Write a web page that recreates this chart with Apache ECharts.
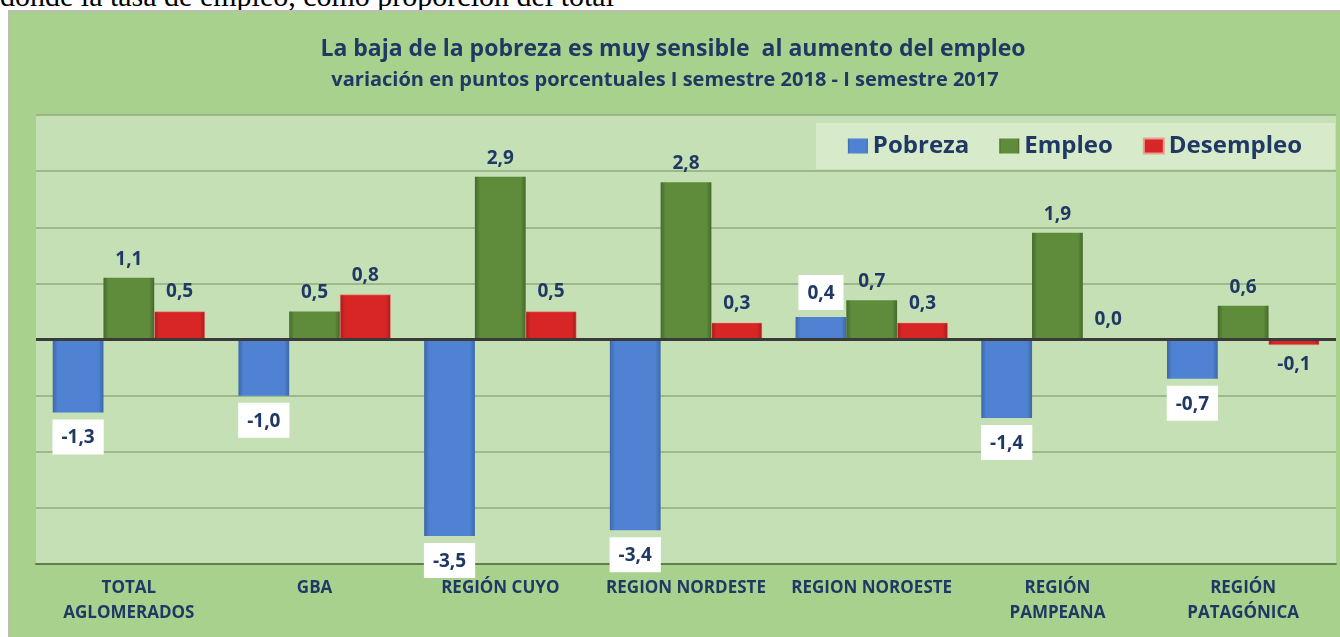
<!DOCTYPE html>
<html>
<head>
<meta charset="utf-8">
<script src="https://cdn.jsdelivr.net/npm/echarts@6/dist/echarts.min.js"></script>
<style>
    body { margin: 0; background: #ffffff; width: 1340px; height: 637px; overflow: hidden; position: relative; }
    #texto { position: absolute; left: 0; top: -19px; font-family: "Liberation Serif", serif; font-size: 30px; line-height: 30px; color: #000; white-space: nowrap; }
    #chart { position: absolute; left: 8px; top: 10px; width: 1332px; height: 627px; background: #a9d18e; border-top: 2px solid #b9c0b2; border-left: 2px solid #b9c0b2; box-sizing: border-box; }
</style>
</head>
<body>
<div id="texto">donde la tasa de empleo, como proporción del total</div>
<div id="chart"></div>
<script>
// datos
var regiones = ['TOTAL\nAGLOMERADOS', 'GBA', 'REGIÓN CUYO', 'REGION NORDESTE', 'REGION NOROESTE', 'REGIÓN\nPAMPEANA', 'REGIÓN\nPATAGÓNICA'];
var pobreza = [-1.3, -1.0, -3.5, -3.4, 0.4, -1.4, -0.7];
var empleo = [1.1, 0.5, 2.9, 2.8, 0.7, 1.9, 0.6];
var desempleo = [0.5, 0.8, 0.5, 0.3, 0.3, 0.0, -0.1];

var azulOscuro = '#1f3864';
var fuente = 'Open Sans';

function coma(v) {
    return v.toFixed(1).replace('.', ',');
}

// degradado horizontal para simular el bisel de excel
function bisel(borde, centro) {
    return new echarts.graphic.LinearGradient(0, 0, 1, 0, [
        { offset: 0, color: borde },
        { offset: 0.1, color: centro },
        { offset: 0.9, color: centro },
        { offset: 1, color: borde }
    ]);
}

// etiqueta arriba o abajo segun el signo
function conEtiqueta(lista, distancia) {
    return lista.map(function (v) {
        return {
            value: v,
            label: { position: v < 0 ? 'bottom' : 'top', distance: distancia }
        };
    });
}

var etiquetaTexto = {
    show: true,
    color: azulOscuro,
    fontFamily: fuente,
    fontWeight: 'bold',
    fontSize: 19,
    formatter: function (p) { return coma(p.value); }
};

var myChart = echarts.init(document.getElementById('chart'));

var option = {
    animation: false,
    title: [{
        text: 'La baja de la pobreza es muy sensible  al aumento del empleo',
        left: 658,
        top: 21,
        textAlign: 'center',
        textStyle: { color: azulOscuro, fontFamily: fuente, fontWeight: 'bold', fontSize: 23 }
    }, {
        text: 'variación en puntos porcentuales I semestre 2018 - I semestre 2017',
        left: 650,
        top: 53,
        textAlign: 'center',
        textStyle: { color: azulOscuro, fontFamily: fuente, fontWeight: 'bold', fontSize: 20 }
    }],
    legend: {
        data: ['Pobreza', 'Empleo', 'Desempleo'],
        right: 5,
        top: 111,
        padding: [11, 33, 11, 32],
        itemGap: 30,
        itemWidth: 20,
        itemHeight: 15,
        icon: 'rect',
        backgroundColor: 'rgba(230,242,220,0.55)',
        textStyle: { color: azulOscuro, fontFamily: fuente, fontWeight: 'bold', fontSize: 24 }
    },
    grid: {
        left: 26,
        right: 4,
        top: 103,
        bottom: 73,
        show: true,
        backgroundColor: '#c5e0b4',
        borderWidth: 0
    },
    xAxis: {
        type: 'category',
        data: regiones,
        position: 'bottom',
        axisLine: { onZero: false, lineStyle: { color: '#5d7f4a', width: 2 } },
        axisTick: { show: false },
        axisLabel: {
            interval: 0,
            margin: 12,
            color: azulOscuro,
            fontFamily: fuente,
            fontWeight: 'bold',
            fontSize: 17,
            lineHeight: 25
        }
    },
    yAxis: {
        type: 'value',
        min: -4,
        max: 4,
        interval: 1,
        axisLabel: { show: false },
        axisLine: { show: false },
        axisTick: { show: false },
        splitLine: { lineStyle: { color: '#8fab7e', width: 1.5 } }
    },
    series: [{
        name: 'Pobreza',
        type: 'bar',
        barGap: '0%',
        barCategoryGap: '18%',
        data: conEtiqueta(pobreza, 7),
        itemStyle: { color: bisel('#3d67a8', '#4f82d2') },
        label: Object.assign({}, etiquetaTexto, {
            backgroundColor: '#ffffff',
            padding: [9, 9, 7, 9]
        }),
        markLine: {
            silent: true,
            symbol: 'none',
            label: { show: false },
            lineStyle: { color: '#3a3a3a', width: 3, type: 'solid' },
            data: [{ yAxis: 0 }]
        }
    }, {
        name: 'Empleo',
        type: 'bar',
        data: conEtiqueta(empleo, 9),
        itemStyle: { color: bisel('#44692b', '#5e8c3b') },
        label: etiquetaTexto
    }, {
        name: 'Desempleo',
        type: 'bar',
        data: conEtiqueta(desempleo, 10),
        itemStyle: { color: bisel('#a51c1c', '#d82626'), borderColor: '#e8a090', borderWidth: 0.5 },
        label: etiquetaTexto
    }]
};

myChart.setOption(option);
</script>
</body>
</html>
